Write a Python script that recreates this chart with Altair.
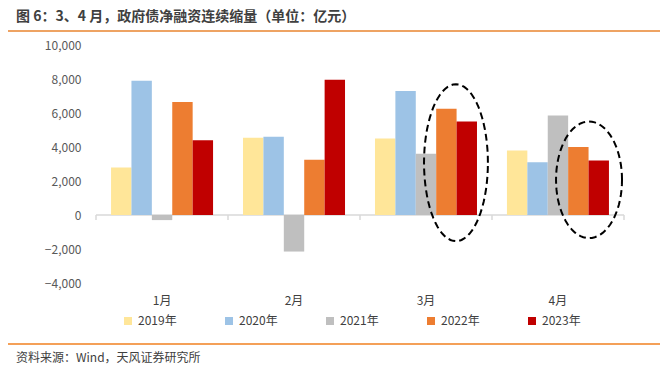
import altair as alt
import pandas as pd
import numpy as np

months = ["1月", "2月", "3月", "4月"]
years = ["2019年", "2020年", "2021年", "2022年", "2023年"]
colors = ["#FFE699", "#9DC3E6", "#BFBFBF", "#ED7D31", "#C00000"]
v2019 = [2800, 4550, 4500, 3800]
v2020 = [7900, 4600, 7300, 3100]
v2021 = [-300, -2150, 3600, 5850]
v2022 = [6650, 3250, 6250, 4000]
v2023 = [4400, 7950, 5500, 3200]
y_ticks = [-4000, -2000, 0, 2000, 4000, 6000, 8000, 10000]
title_text = ["图 6：3、4 月，政府债净融资连续缩量（单位：亿元）"]
source_text = ["资料来源：Wind，天风证券研究所"]
# annotation ellipses: centre (group units, value), radii
ellipses = [
    {"id": "mar", "cu": 2.727, "cy": 3077, "ru": 0.242, "ry": 4615},
    {"id": "apr", "cu": 3.735, "cy": 2070, "ru": 0.25, "ry": 3430},
]

FONT = "Noto Sans CJK SC"
W, H = 528, 238

rows = []
series = [v2019, v2020, v2021, v2022, v2023]
for yi, y in enumerate(years):
    for mi, m in enumerate(months):
        rows.append({"month": m, "year": y, "value": series[yi][mi]})
df = pd.DataFrame(rows)

ell_rows = []
for e in ellipses:
    for k, t in enumerate(np.linspace(0, 2 * np.pi, 73)):
        ell_rows.append({"id": e["id"], "k": k,
                         "u": e["cu"] + e["ru"] * np.cos(t),
                         "v": e["cy"] + e["ry"] * np.sin(t)})
ell_df = pd.DataFrame(ell_rows)

yscale = alt.Scale(domain=[-4000, 10000], nice=False)
yaxis = alt.Axis(values=y_ticks, format=",d", domain=False, ticks=False, grid=False,
                 labelOverlap=False, labelPadding=15, labelFontSize=12,
                 labelColor="#595959", labelFont=FONT, title=None)

bars = alt.Chart(df).mark_bar().encode(
    x=alt.X("month:N", sort=months, title=None,
            scale=alt.Scale(paddingInner=0.227, paddingOuter=0.114),
            axis=alt.Axis(domain=False, ticks=False, labelAngle=0, labelPadding=12,
                          labelFontSize=12, labelColor="#404040", labelFont=FONT)),
    xOffset=alt.XOffset("year:N", sort=years, scale=alt.Scale(paddingInner=0, paddingOuter=0)),
    y=alt.Y("value:Q", scale=yscale, title=None, axis=yaxis),
    color=alt.Color("year:N", sort=years, scale=alt.Scale(domain=years, range=colors),
                    legend=alt.Legend(title=None, orient="none", legendX=26, legendY=270,
                                      direction="horizontal", columns=5, columnPadding=46,
                                      symbolType="square", symbolSize=64, symbolStrokeWidth=0,
                                      labelFontSize=12, labelColor="#404040", labelFont=FONT,
                                      labelOffset=4)),
)

ux = alt.Scale(domain=[0, 4], nice=False, zero=False)

base_df = pd.DataFrame({"u": [0], "u2": [4], "v": [0]})
baseline = alt.Chart(base_df).mark_rule(color="#D9D9D9", strokeWidth=1.5).encode(
    x=alt.X("u:Q", scale=ux, axis=None), x2="u2:Q",
    y=alt.Y("v:Q", scale=yscale, title=None, axis=yaxis))

tick_df = pd.DataFrame({"u": [0, 1, 2, 3, 4], "v": [0] * 5, "v2": [-300] * 5})
ticks = alt.Chart(tick_df).mark_rule(color="#D9D9D9", strokeWidth=1.5).encode(
    x=alt.X("u:Q", scale=ux, axis=None),
    y=alt.Y("v:Q", scale=yscale, title=None, axis=yaxis), y2="v2:Q")

ell = alt.Chart(ell_df).mark_line(color="#000000", strokeWidth=2, strokeDash=[7, 4]).encode(
    x=alt.X("u:Q", scale=ux, axis=None),
    y=alt.Y("v:Q", scale=yscale, title=None, axis=yaxis),
    detail="id:N", order="k:Q")

title = alt.Chart(pd.DataFrame({"t": title_text})).mark_text(
    align="left", baseline="top", font=FONT, fontSize=14, fontWeight="bold", color="#404040"
).encode(text="t:N", x=alt.value(-80), y=alt.value(-35))

src = alt.Chart(pd.DataFrame({"t": source_text})).mark_text(
    align="left", baseline="middle", font=FONT, fontSize=12, color="#404040"
).encode(text="t:N", x=alt.value(-80), y=alt.value(313))

line_top = alt.Chart(pd.DataFrame({"a": [0]})).mark_rule(color="#E8842F", strokeWidth=1.5).encode(
    x=alt.value(-90), x2=alt.value(564), y=alt.value(-14))
line_bot = alt.Chart(pd.DataFrame({"a": [0]})).mark_rule(color="#F08020", strokeWidth=1.5).encode(
    x=alt.value(-90), x2=alt.value(564), y=alt.value(299))

chart = alt.layer(baseline, bars, ticks, ell, title, src, line_top, line_bot).resolve_scale(
    x="independent"
).properties(
    width=W, height=H,
    autosize=alt.AutoSizeParams(type="none"),
    padding={"left": 88, "top": 37, "right": 36, "bottom": 83},
    background="white",
).configure_view(stroke=None)

chart.save("out.html", embed_options={"renderer": "svg", "actions": False})
